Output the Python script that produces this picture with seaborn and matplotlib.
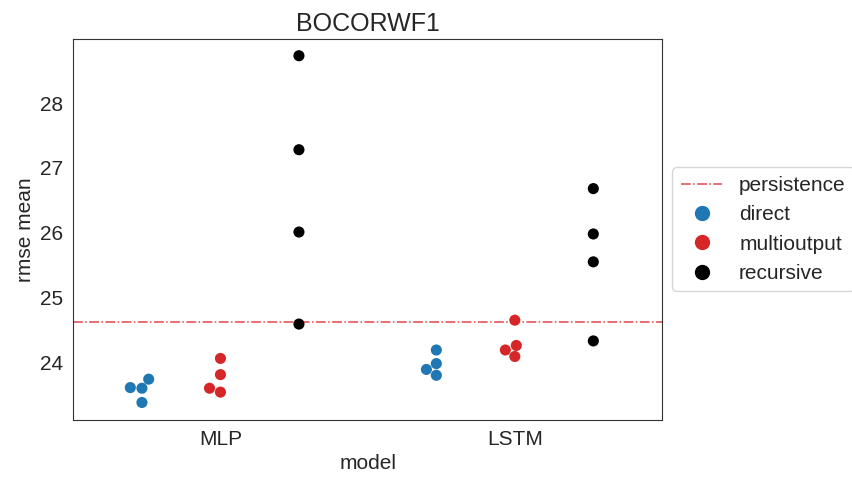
import numpy as np
import pandas as pd
import matplotlib
matplotlib.use("Agg")
import matplotlib.pyplot as plt
from matplotlib.lines import Line2D
import seaborn as sns

# values
models = ["MLP", "LSTM"]
strategies = ["direct", "multioutput", "recursive"]
mlp_direct = [23.61, 23.60, 23.74, 23.38]
mlp_multioutput = [23.60, 23.54, 23.81, 24.06]
mlp_recursive = [28.73, 27.28, 26.01, 24.59]
lstm_direct = [24.19, 23.98, 23.89, 23.80]
lstm_multioutput = [24.65, 24.26, 24.19, 24.09]
lstm_recursive = [26.68, 25.98, 25.55, 24.33]
persistence = 24.62

series = {
    ("MLP", "direct"): mlp_direct,
    ("MLP", "multioutput"): mlp_multioutput,
    ("MLP", "recursive"): mlp_recursive,
    ("LSTM", "direct"): lstm_direct,
    ("LSTM", "multioutput"): lstm_multioutput,
    ("LSTM", "recursive"): lstm_recursive,
}
rows = []
for (m, s), vals in series.items():
    for v in vals:
        rows.append({"model": m, "strategy": s, "rmse mean": v})
df = pd.DataFrame(rows)

palette = {"direct": "#1f77b4", "multioutput": "#d62728", "recursive": "black"}

sns.set_style("white")
plt.rcParams["font.family"] = ["Arial", "Liberation Sans", "DejaVu Sans"]

fig, ax = plt.subplots(figsize=(8.52, 4.8), dpi=100)
fig.subplots_adjust(left=0.086, right=0.777, top=0.919, bottom=0.125)

ax.axhline(persistence, color="#e0474c", ls="-.", lw=1.1)
sns.swarmplot(data=df, x="model", y="rmse mean", hue="strategy", order=models,
              hue_order=strategies, palette=palette, dodge=True, size=8, ax=ax,
              legend=False)

ax.set_ylim(23.11, 28.99)
ax.set_title("BOCORWF1", fontsize=18)
ax.set_xlabel("model", fontsize=15)
ax.set_ylabel("rmse mean", fontsize=15)
ax.tick_params(labelsize=15)
for sp in ax.spines.values():
    sp.set_color("#333333")

handles = [Line2D([], [], color="#e0474c", ls="-.", lw=1.1)]
labels = ["persistence"]
for s in strategies:
    handles.append(Line2D([], [], ls="", marker="o", markersize=10,
                          color=palette[s]))
    labels.append(s)
ax.legend(handles, labels, loc="center left", bbox_to_anchor=(1, 0.5),
          fontsize=15)

fig.savefig("out.png", dpi=100)
